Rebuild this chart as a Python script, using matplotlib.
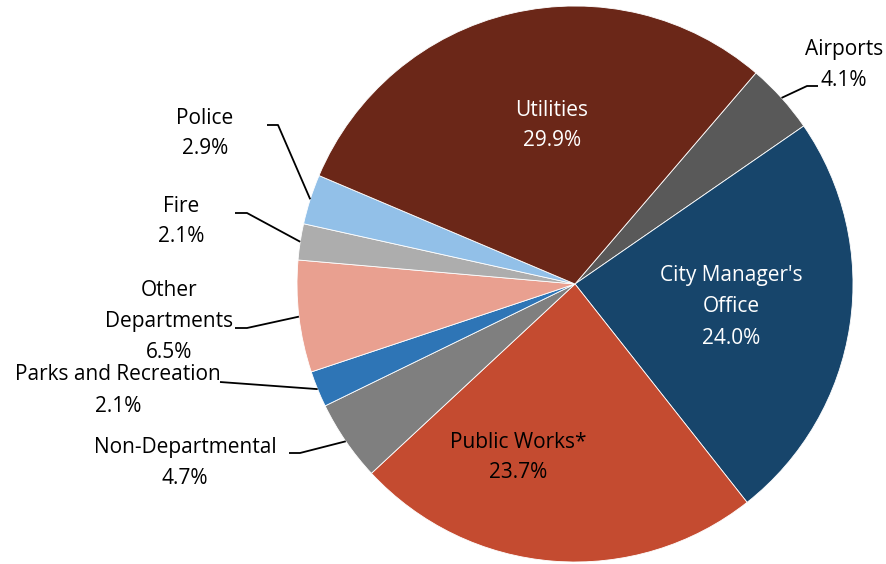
import numpy as np
import matplotlib.pyplot as plt

plt.rcParams["font.family"] = ["Open Sans", "DejaVu Sans"]

# Budget share by department (clockwise from Airports)
departments = ["Airports", "City Manager's Office", "Public Works*", "Non-Departmental",
               "Parks and Recreation", "Other Departments", "Fire", "Police", "Utilities"]
shares = [4.1, 24.0, 23.7, 4.7, 2.1, 6.5, 2.1, 2.9, 29.9]
label_lines = [["Airports"], ["City Manager's", "Office"], ["Public Works*"], ["Non-Departmental"],
               ["Parks and Recreation"], ["Other", "Departments"], ["Fire"], ["Police"], ["Utilities"]]
colors = ["#595959", "#17456B", "#C44B30", "#7F7F7F", "#2E75B6",
          "#E9A090", "#ADADAD", "#92C0E8", "#6B2718"]

W, H = 886, 564
fig = plt.figure(figsize=(W / 100, H / 100), dpi=100)
ax = fig.add_axes([0, 0, 1, 1])

cx, cy, r = 575, 284, 278
wedges, _ = ax.pie(shares, colors=colors, startangle=49.4, counterclock=False,
                   center=(cx, H - cy), radius=r,
                   wedgeprops=dict(edgecolor="white", linewidth=0.6))
ax.set_xlim(0, W)
ax.set_ylim(0, H)
ax.set_aspect("equal")
ax.axis("off")

# label placement in pixel coords (x, y of first line), text colour, leader path
layout = {
    "Airports": ((844, 48), "black", [(807, 86), (818, 86)]),
    "City Manager's Office": ((731, 274), "white", None),
    "Public Works*": ((518, 440), "black", None),
    "Non-Departmental": ((185, 446), "black", [(300, 453), (289, 453)]),
    "Parks and Recreation": ((118, 373), "black", [(220, 382)]),
    "Other Departments": ((169, 289), "black", [(247, 328), (235, 328)]),
    "Fire": ((181, 204), "black", [(247, 213), (235, 213)]),
    "Police": ((205, 116), "black", [(278, 125), (267, 125)]),
    "Utilities": ((552, 108), "white", None),
}

step = 31
for w, name, lines, val in zip(wedges, departments, label_lines, shares):
    (tx, ty), tc, path = layout[name]
    for i, line in enumerate(lines + [f"{val:.1f}%"]):
        ax.text(tx, H - (ty + 2 + i * step), line, ha="center", va="center",
                fontsize=15, color=tc)
    if path:
        mid = np.deg2rad((w.theta1 + w.theta2) / 2)
        ax_x = cx + r * np.cos(mid)
        ax_y = (H - cy) + r * np.sin(mid)
        xs = [ax_x] + [p[0] for p in path]
        ys = [ax_y] + [H - p[1] for p in path]
        ax.plot(xs, ys, color="black", linewidth=1.3, solid_capstyle="butt")

fig.savefig("out.png", dpi=100)
